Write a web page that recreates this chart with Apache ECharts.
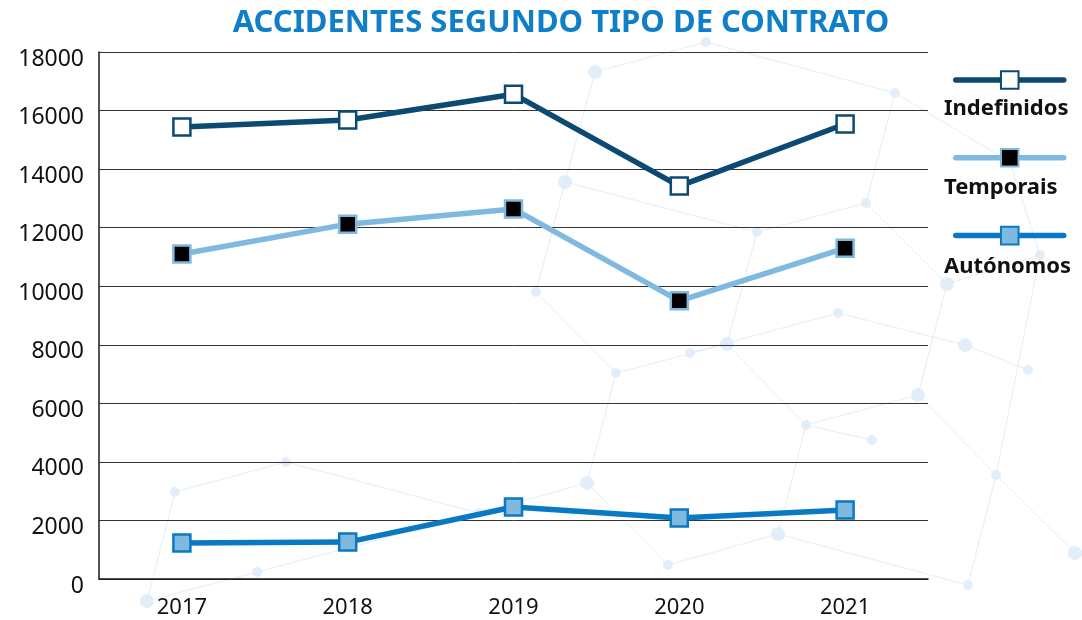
<!DOCTYPE html>
<html>
<head>
<meta charset="utf-8">
<script src="https://cdn.jsdelivr.net/npm/echarts@6/dist/echarts.min.js"></script>
<style>
  html, body { margin: 0; padding: 0; background: #fff; }
  #chart { width: 1082px; height: 620px; }
</style>
</head>
<body>
<div id="chart"></div>
<script>
// data
var years = ["2017", "2018", "2019", "2020", "2021"];
var indefinidos = [15440, 15680, 16560, 13420, 15540];
var temporais = [11100, 12120, 12640, 9500, 11300];
var autonomos = [1230, 1260, 2460, 2080, 2360];
var seriesNames = ["Indefinidos", "Temporais", "Autónomos"];

var myChart = echarts.init(document.getElementById("chart"));

// faint network pattern in the background
var bgColor = "#dceaf7";
var nodes = [
  [595, 72], [706, 42], [895, 93], [565, 182], [536, 292], [616, 373], [727, 344],
  [757, 232], [866, 203], [947, 284], [1040, 255], [1010, 162], [918, 395],
  [806, 425], [996, 475], [587, 483], [479, 513], [668, 565], [778, 534],
  [968, 585], [257, 572], [147, 601], [175, 492], [286, 462], [1075, 553],
  [838, 313], [690, 353], [965, 345], [1028, 370], [872, 440]
];
var links = [
  [0, 1], [1, 2], [0, 3], [3, 4], [4, 5], [5, 6], [6, 7], [7, 8], [8, 2],
  [8, 9], [9, 10], [10, 11], [11, 2], [9, 12], [12, 13], [13, 6], [12, 14],
  [14, 10], [5, 15], [15, 16], [15, 17], [17, 18], [18, 13], [18, 19],
  [19, 14], [20, 21], [21, 22], [22, 23], [23, 16], [20, 16], [14, 24],
  [7, 3], [25, 26], [25, 27], [27, 28], [29, 13]
];
var bgGraphics = [];
links.forEach(function (l) {
  bgGraphics.push({
    type: "line",
    silent: true,
    z: -10,
    shape: { x1: nodes[l[0]][0], y1: nodes[l[0]][1], x2: nodes[l[1]][0], y2: nodes[l[1]][1] },
    style: { stroke: bgColor, lineWidth: 1, opacity: 0.8 }
  });
});
nodes.forEach(function (n, i) {
  bgGraphics.push({
    type: "circle",
    silent: true,
    z: -10,
    shape: { cx: n[0], cy: n[1], r: i % 3 === 0 ? 7 : 5 },
    style: { fill: bgColor, opacity: 0.8 }
  });
});

// legend labels sit under each legend icon
var legendTexts = seriesNames.map(function (name, i) {
  return {
    type: "text",
    left: 944,
    top: 98 + i * 79,
    style: {
      text: name,
      font: "bold 22px 'Noto Sans'",
      fill: "#111"
    }
  };
});

var option = {
  backgroundColor: "#fff",
  animation: false,
  title: {
    text: "ACCIDENTES SEGUNDO TIPO DE CONTRATO",
    left: 556,
    textAlign: "center",
    top: 3,
    textStyle: {
      color: "#0f7fc8",
      fontFamily: "Noto Sans",
      fontWeight: "bold",
      fontSize: 31
    }
  },
  legend: {
    orient: "vertical",
    left: 948,
    top: 64,
    itemWidth: 108,
    itemHeight: 22,
    itemGap: 57,
    lineStyle: { width: 5.5, cap: "round" },
    formatter: function () { return ""; },
    data: seriesNames
  },
  graphic: bgGraphics.concat(legendTexts),
  grid: {
    left: 99,
    right: 154,
    top: 52,
    bottom: 41
  },
  xAxis: {
    type: "category",
    data: years,
    boundaryGap: true,
    axisLine: { lineStyle: { color: "#1a1a1a", width: 1.5 } },
    axisTick: {
      alignWithLabel: true,
      inside: true,
      length: 13,
      lineStyle: { color: "#1a1a1a", width: 1.5 }
    },
    axisLabel: {
      color: "#111",
      fontFamily: "Noto Sans",
      fontSize: 22,
      margin: 18
    }
  },
  yAxis: {
    type: "value",
    min: 0,
    max: 18000,
    interval: 2000,
    axisLine: { show: true, lineStyle: { color: "#1a1a1a", width: 1.5 } },
    axisTick: { show: false },
    splitLine: { lineStyle: { color: "#333", width: 1 } },
    axisLabel: {
      color: "#111",
      fontFamily: "Noto Sans",
      fontSize: 23,
      margin: 15,
      // labels sit a little below their gridlines in the reference
      formatter: function (v) { return "{a|" + v + "}"; },
      rich: {
        a: {
          color: "#111",
          fontFamily: "Noto Sans",
          fontSize: 23,
          padding: [14, 0, 0, 0]
        }
      }
    }
  },
  series: [
    {
      name: seriesNames[0],
      type: "line",
      data: indefinidos,
      symbol: "rect",
      symbolSize: 17,
      lineStyle: { color: "#0d4a73", width: 5.5 },
      itemStyle: { color: "#fff", borderColor: "#0d4a73", borderWidth: 2.5 },
      z: 3
    },
    {
      name: seriesNames[1],
      type: "line",
      data: temporais,
      symbol: "rect",
      symbolSize: 17,
      lineStyle: { color: "#80b9df", width: 5.5 },
      itemStyle: { color: "#000", borderColor: "#80b9df", borderWidth: 2.5 },
      z: 3
    },
    {
      name: seriesNames[2],
      type: "line",
      data: autonomos,
      symbol: "rect",
      symbolSize: 17,
      lineStyle: { color: "#0a79c3", width: 5.5 },
      itemStyle: { color: "#80b9df", borderColor: "#0a79c3", borderWidth: 2.5 },
      z: 3
    }
  ]
};

myChart.setOption(option);
</script>
</body>
</html>
